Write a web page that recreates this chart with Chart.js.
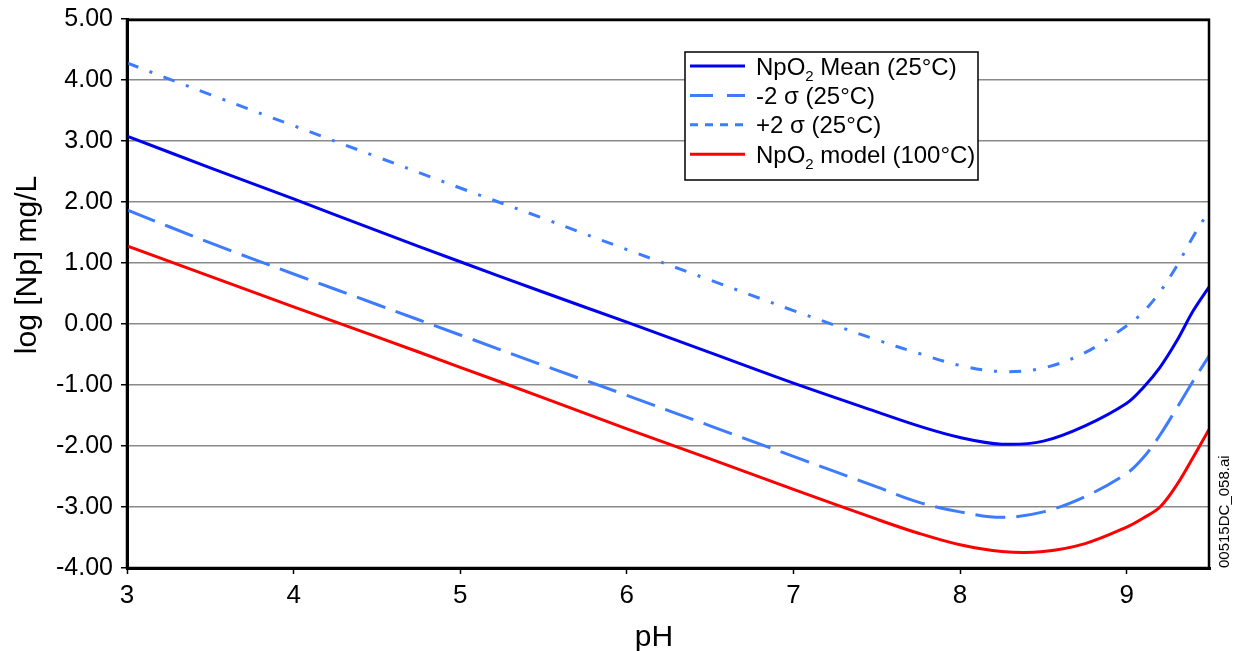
<!DOCTYPE html>
<html><head><meta charset="utf-8">
<script src="https://cdn.jsdelivr.net/npm/chart.js@4/dist/chart.umd.min.js"></script>
<style>html,body{margin:0;padding:0;background:#fff;overflow:hidden}#wrap{width:1236px;height:651px;position:relative}</style>
</head><body><div id="wrap"><canvas id="c" width="1236" height="651"></canvas></div>
<script>
const pH        = [3, 3.5, 4, 4.5, 5, 5.5, 6, 6.5, 7, 7.5, 7.75, 8, 8.25, 8.5, 8.75, 9, 9.1, 9.2, 9.3, 9.4, 9.5];
const meanVals  = [3.08, 2.56, 2.05, 1.53, 1.02, 0.52, 0.03, -0.47, -0.97, -1.44, -1.67, -1.86, -1.97, -1.92, -1.67, -1.30, -1.04, -0.71, -0.28, 0.22, 0.63];
const minus2Vals= [1.87, 1.33, 0.82, 0.32, -0.18, -0.68, -1.17, -1.67, -2.17, -2.67, -2.92, -3.08, -3.17, -3.08, -2.83, -2.45, -2.19, -1.82, -1.38, -0.93, -0.50];
const plus2Vals = [4.28, 3.76, 3.25, 2.74, 2.23, 1.73, 1.22, 0.72, 0.22, -0.26, -0.48, -0.68, -0.78, -0.72, -0.47, -0.03, 0.20, 0.53, 0.95, 1.44, 1.88];
const modelVals = [1.28, 0.78, 0.28, -0.21, -0.71, -1.21, -1.72, -2.21, -2.71, -3.20, -3.43, -3.62, -3.73, -3.73, -3.60, -3.33, -3.18, -3.00, -2.64, -2.18, -1.70];
const xTicks = [3, 4, 5, 6, 7, 8, 9];
const yTicks = [-4, -3, -2, -1, 0, 1, 2, 3, 4, 5];
const seriesLabels = ['NpO_2 Mean (25°C)', '-2 σ (25°C)', '+2 σ (25°C)', 'NpO_2 model (100°C)'];
const xTitle = 'pH';
const yTitle = 'log [Np] mg/L';
const fileTag = '00515DC_058.ai';

const FONT = "'Liberation Sans', Arial, sans-serif";
const colors = ['#0000f0', '#3d7bff', '#3d7bff', '#ff0000'];
const dashes = [[], [30, 11], [12, 12, 3, 12], []];
const legendDashes = [[], [23, 14], [8, 7], []];

function pts(vals){ return pH.map((x,i)=>({x:x, y:vals[i]})); }
const allVals = [meanVals, minus2Vals, plus2Vals, modelVals];

const datasets = allVals.map((v,i)=>({
  label: seriesLabels[i].replace('_',''),
  data: pts(v),
  borderColor: colors[i],
  borderWidth: 3,
  borderDash: dashes[i],
  pointRadius: 0,
  fill: false,
  tension: 0.35
}));

function drawRich(ctx, text, x, y, size){
  let cx = x;
  for (let i=0;i<text.length;i++){
    const ch = text[i];
    if (ch === '_' && i+1 < text.length){
      const s = text[i+1];
      ctx.font = Math.round(size*0.64) + 'px ' + FONT;
      ctx.fillText(s, cx, y + size*0.26);
      cx += ctx.measureText(s).width;
      i++;
    } else {
      ctx.font = size + 'px ' + FONT;
      ctx.fillText(ch, cx, y);
      cx += ctx.measureText(ch).width;
    }
  }
}

const decor = {
  id: 'decor',
  afterDatasetsDraw(chart){
    const ctx = chart.ctx, a = chart.chartArea;
    ctx.save();
    ctx.strokeStyle = '#000'; ctx.lineWidth = 2.5; ctx.setLineDash([]);
    ctx.strokeRect(a.left, a.top + 1, a.right - a.left - 1, a.bottom - a.top - 1);
    const bx = 685, by = 52, bw = 293, bh = 128;
    ctx.fillStyle = '#fff'; ctx.fillRect(bx, by, bw, bh);
    ctx.strokeStyle = '#000'; ctx.lineWidth = 1.5; ctx.strokeRect(bx, by, bw, bh);
    const size = 24;
    seriesLabels.forEach((lab, i) => {
      const ly = 66 + i * 29.4;
      ctx.beginPath();
      ctx.strokeStyle = colors[i]; ctx.lineWidth = 3; ctx.setLineDash(legendDashes[i]);
      ctx.moveTo(690, ly); ctx.lineTo(745, ly); ctx.stroke();
      ctx.setLineDash([]);
      ctx.fillStyle = '#000'; ctx.textAlign = 'left'; ctx.textBaseline = 'alphabetic';
      drawRich(ctx, lab, 756, ly + 8.5, size);
    });
    ctx.fillStyle = '#000';
    ctx.font = '30px ' + FONT; ctx.textAlign = 'center'; ctx.textBaseline = 'alphabetic';
    ctx.fillText(xTitle, 654, 646);
    ctx.save();
    ctx.translate(36, 265); ctx.rotate(-Math.PI/2);
    ctx.font = '30px ' + FONT; ctx.textAlign = 'center';
    ctx.fillText(yTitle, 0, 0);
    ctx.restore();
    ctx.save();
    ctx.translate(1229, 568); ctx.rotate(-Math.PI/2);
    ctx.font = '15px ' + FONT; ctx.textAlign = 'left';
    ctx.fillText(fileTag, 0, 0);
    ctx.restore();
    ctx.restore();
  }
};

new Chart(document.getElementById('c'), {
  type: 'line',
  data: { datasets },
  plugins: [decor],
  options: {
    responsive: false,
    devicePixelRatio: 1,
    animation: false,
    layout: { padding: { top: 19, right: 26, left: 0, bottom: 0 } },
    plugins: { legend: { display: false }, tooltip: { enabled: false } },
    scales: {
      x: {
        type: 'linear', min: 3, max: 9.5, position: 'bottom',
        afterBuildTicks: s => { s.ticks = xTicks.map(v => ({ value: v })); },
        afterFit: s => { s.height = 83; s.paddingLeft = 0; s.paddingRight = 0; },
        grid: { drawOnChartArea: false, drawTicks: true, tickLength: 6, tickColor: '#000', tickWidth: 1.5 },
        border: { display: true, color: '#000', width: 3 },
        ticks: { color: '#000', font: { family: FONT, size: 26 }, padding: 6, maxRotation: 0, callback: v => String(v) }
      },
      y: {
        type: 'linear', min: -4, max: 5,
        afterBuildTicks: s => { s.ticks = yTicks.map(v => ({ value: v })); },
        afterFit: s => { s.width = 127; s.paddingTop = 0; s.paddingBottom = 0; },
        grid: { color: '#8a8a8a', lineWidth: 1.5, drawTicks: true, tickLength: 6, tickColor: '#000', tickWidth: 1.5 },
        border: { display: true, color: '#000', width: 3 },
        ticks: { color: '#000', font: { family: FONT, size: 25 }, padding: 8, callback: v => Number(v).toFixed(2) }
      }
    }
  }
});
</script>
</body></html>
